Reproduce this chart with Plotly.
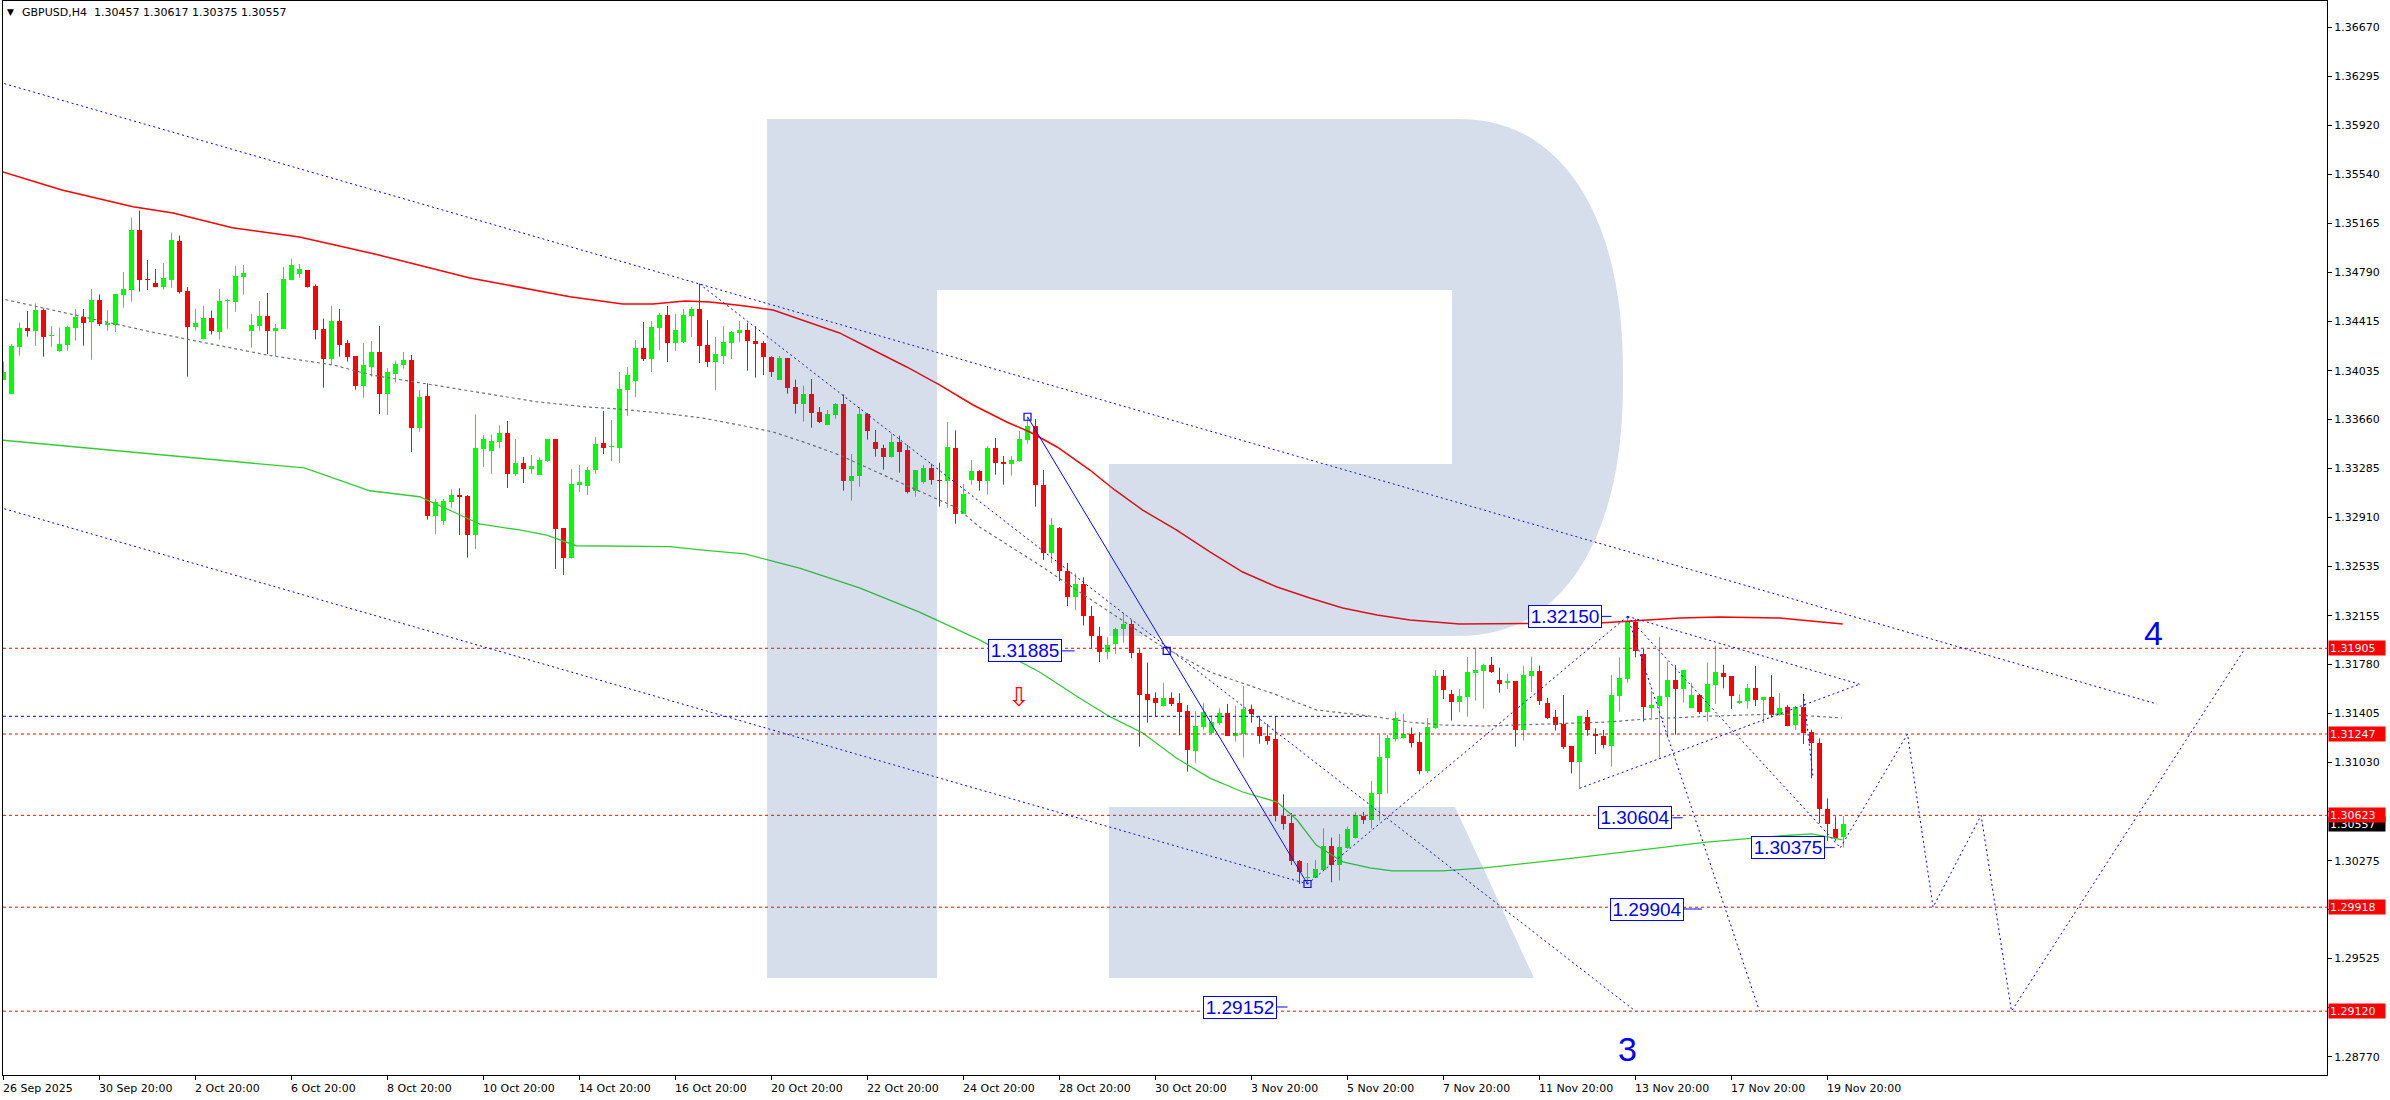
import math
import plotly.graph_objects as go

# ---------------- data ----------------
bar_open = [1.33964,1.33859,1.34217,1.34366,1.34340,1.34504,1.34299,1.34187,1.34235,1.34366,
1.34447,1.34412,1.34578,1.34389,1.34386,1.34619,1.34657,1.35115,1.34734,1.34708,
1.34680,1.34734,1.35033,1.34647,1.34373,1.34281,1.34442,1.34335,1.34568,1.34565,
1.34757,1.34343,1.34381,1.34455,1.34343,1.34358,1.34734,1.34780,1.34808,1.34685,
1.34355,1.34128,1.34417,1.34248,1.34148,1.33921,1.34066,1.34179,1.33857,1.34010,
1.34079,1.34118,1.33598,1.33841,1.32920,1.32882,1.33028,1.33082,1.33074,1.32775,
1.33435,1.33419,1.33488,1.33555,1.33243,1.33325,1.33281,1.33235,1.33342,1.33511,
1.32828,1.32598,1.33161,1.33151,1.33274,1.33481,1.33447,1.33442,1.33887,1.33956,
1.34210,1.34125,1.34363,1.34463,1.34248,1.34256,1.34455,1.34509,1.34233,1.34102,
1.34148,1.34248,1.34325,1.34348,1.34263,1.34248,1.34141,1.33967,1.34133,1.33910,
1.33782,1.33857,1.33718,1.33621,1.33698,1.33780,1.33191,1.33230,1.33703,1.33488,
1.33442,1.33373,1.33488,1.33427,1.33115,1.33184,1.33289,1.33194,1.33191,1.33442,
1.32938,1.33199,1.33266,1.33191,1.33442,1.33335,1.33322,1.33342,1.33506,1.33611,
1.33161,1.32636,1.32830,1.32500,1.32300,1.32400,1.32150,1.32000,1.31880,1.31938,
1.32050,1.32092,1.31866,1.31552,1.31521,1.31462,1.31521,1.31483,1.31424,1.31119,
1.31301,1.31255,1.31332,1.31409,1.31235,1.31250,1.31439,1.31301,1.31235,1.31206,
1.30616,1.30564,1.30273,1.30142,1.30145,1.30206,1.30388,1.30245,1.30370,1.30449,
1.30616,1.30588,1.30790,1.31066,1.31212,1.31217,1.31245,1.31186,1.30966,1.31291,
1.31692,1.31554,1.31493,1.31531,1.31718,1.31733,1.31777,1.31662,1.31636,1.31654,
1.31278,1.31695,1.31731,1.31488,1.31378,1.31324,1.31155,1.31035,1.31378,1.31247,
1.31234,1.31158,1.31541,1.31672,1.32107,1.31864,1.31449,1.31465,1.31534,1.31662,
1.31595,1.31449,1.31549,1.31416,1.31626,1.31715,1.31692,1.31488,1.31498,1.31600,
1.31508,1.31531,1.31396,1.31454,1.31316,1.31454,1.31265,1.31176,1.30669,1.30518,
1.30457]
bar_high = [1.34105,1.34240,1.34404,1.34493,1.34552,1.34514,1.34378,1.34366,1.34381,1.34509,
1.34509,1.34662,1.34621,1.34501,1.34624,1.34793,1.35210,1.35263,1.34885,1.34816,
1.34862,1.35095,1.35072,1.34678,1.34511,1.34532,1.34496,1.34662,1.34588,1.34839,
1.34847,1.34470,1.34570,1.34632,1.34394,1.34831,1.34893,1.34854,1.34808,1.34698,
1.34435,1.34532,1.34509,1.34271,1.34148,1.34248,1.34263,1.34378,1.34054,1.34112,
1.34179,1.34156,1.33887,1.33938,1.33051,1.33051,1.33125,1.33133,1.33082,1.33701,
1.33542,1.33544,1.33616,1.33649,1.33511,1.33373,1.33388,1.33371,1.33511,1.33511,
1.32828,1.33281,1.33312,1.33296,1.33527,1.33726,1.33657,1.34025,1.34064,1.34271,
1.34409,1.34417,1.34478,1.34532,1.34470,1.34509,1.34524,1.34701,1.34424,1.34294,
1.34378,1.34340,1.34417,1.34404,1.34378,1.34263,1.34146,1.34148,1.34133,1.33967,
1.33920,1.33972,1.33757,1.33734,1.33787,1.33854,1.33396,1.33757,1.33711,1.33580,
1.33468,1.33552,1.33537,1.33465,1.33273,1.33312,1.33322,1.33330,1.33642,1.33578,
1.33166,1.33350,1.33273,1.33457,1.33519,1.33381,1.33381,1.33573,1.33682,1.33665,
1.33273,1.32905,1.32836,1.32560,1.32480,1.32450,1.32230,1.32070,1.31990,1.32063,
1.32176,1.32122,1.31897,1.31795,1.31567,1.31639,1.31567,1.31560,1.31470,1.31424,
1.31483,1.31393,1.31444,1.31478,1.31462,1.31616,1.31473,1.31383,1.31324,1.31383,
1.30784,1.30641,1.30280,1.30257,1.30280,1.30524,1.30452,1.30480,1.30537,1.30646,
1.30649,1.30887,1.31240,1.31240,1.31419,1.31401,1.31296,1.31260,1.31370,1.31738,
1.31738,1.31585,1.31593,1.31838,1.31900,1.31787,1.31838,1.31756,1.31708,1.31654,
1.31772,1.31841,1.31772,1.31523,1.31431,1.31547,1.31155,1.31385,1.31431,1.31291,
1.31278,1.31700,1.31836,1.32150,1.32130,1.31900,1.31577,1.31992,1.31802,1.31777,
1.31738,1.31641,1.31549,1.31797,1.31925,1.31779,1.31692,1.31552,1.31631,1.31769,
1.31531,1.31700,1.31562,1.31470,1.31462,1.31546,1.31281,1.31214,1.30754,1.30615,
1.30617]
bar_low = [1.33964,1.33859,1.34151,1.34297,1.34225,1.34143,1.34220,1.34181,1.34187,1.34266,
1.34227,1.34120,1.34378,1.34343,1.34332,1.34519,1.34565,1.34642,1.34655,1.34675,
1.34657,1.34673,1.34627,1.33990,1.34345,1.34276,1.34314,1.34273,1.34358,1.34488,
1.34619,1.34212,1.34343,1.34164,1.34148,1.34358,1.34731,1.34749,1.34673,1.34276,
1.33905,1.34084,1.34143,1.34105,1.33890,1.33828,1.33990,1.33703,1.33696,1.33944,
1.34051,1.33412,1.33568,1.32892,1.32782,1.32851,1.32984,1.32775,1.32601,1.32667,
1.33296,1.33243,1.33440,1.33135,1.33227,1.33174,1.33243,1.33235,1.33335,1.32514,
1.32468,1.32593,1.33105,1.33082,1.33243,1.33396,1.33342,1.33327,1.33688,1.33834,
1.34110,1.34025,1.34194,1.34102,1.34187,1.34248,1.34294,1.34094,1.34064,1.33887,
1.34087,1.34125,1.34256,1.34036,1.33982,1.34002,1.33987,1.33967,1.33859,1.33706,
1.33644,1.33598,1.33634,1.33621,1.33667,1.33115,1.33038,1.33145,1.33506,1.33376,
1.33276,1.33368,1.33253,1.33092,1.33069,1.33168,1.33161,1.32992,1.32982,1.32861,
1.32938,1.33161,1.33115,1.33084,1.33237,1.33161,1.33230,1.33337,1.33475,1.32992,
1.32583,1.32560,1.32420,1.32230,1.32200,1.32080,1.31900,1.31800,1.31820,1.31859,
1.31948,1.31828,1.31150,1.31334,1.31380,1.31457,1.31462,1.31237,1.30958,1.31027,
1.31281,1.31250,1.31316,1.31235,1.31189,1.31066,1.31334,1.31173,1.31166,1.30577,
1.30513,1.30242,1.30096,1.30096,1.30140,1.30196,1.30109,1.30124,1.30365,1.30444,
1.30557,1.30521,1.30582,1.30790,1.31189,1.31212,1.31143,1.30938,1.30948,1.31286,
1.31516,1.31350,1.31414,1.31380,1.31503,1.31442,1.31715,1.31564,1.31593,1.31150,
1.31196,1.31570,1.31470,1.31362,1.31273,1.31132,1.30945,1.30830,1.31234,1.31094,
1.31137,1.30997,1.31419,1.31641,1.31836,1.31342,1.31372,1.31066,1.31219,1.31242,
1.31488,1.31449,1.31401,1.31342,1.31477,1.31598,1.31439,1.31477,1.31442,1.31462,
1.31332,1.31373,1.31388,1.31306,1.31278,1.31170,1.30907,1.30562,1.30426,1.30426,
1.30375]
bar_close = [1.34028,1.34227,1.34366,1.34343,1.34504,1.34297,1.34304,1.34240,1.34373,1.34450,
1.34404,1.34578,1.34394,1.34401,1.34624,1.34662,1.35115,1.34729,1.34729,1.34680,
1.34747,1.35038,1.34642,1.34373,1.34401,1.34442,1.34343,1.34570,1.34573,1.34762,
1.34785,1.34386,1.34455,1.34343,1.34363,1.34739,1.34847,1.34816,1.34680,1.34350,
1.34128,1.34417,1.34235,1.34138,1.33921,1.34079,1.34179,1.33857,1.34025,1.34084,
1.34118,1.33598,1.33834,1.32920,1.33028,1.33036,1.33082,1.33066,1.32775,1.33442,
1.33511,1.33496,1.33555,1.33243,1.33325,1.33281,1.33304,1.33348,1.33511,1.32821,
1.32601,1.33166,1.33181,1.33274,1.33473,1.33442,1.33452,1.33895,1.34002,1.34210,
1.34125,1.34371,1.34463,1.34248,1.34348,1.34463,1.34509,1.34225,1.34102,1.34164,
1.34256,1.34332,1.34348,1.34266,1.34243,1.34141,1.34028,1.34133,1.33905,1.33782,
1.33857,1.33711,1.33641,1.33703,1.33780,1.33191,1.33227,1.33703,1.33575,1.33437,
1.33376,1.33488,1.33414,1.33107,1.33273,1.33289,1.33199,1.33189,1.33450,1.32938,
1.33089,1.33266,1.33191,1.33442,1.33330,1.33322,1.33350,1.33511,1.33611,1.33161,
1.32636,1.32850,1.32500,1.32300,1.32400,1.32150,1.32000,1.31880,1.31930,1.32053,
1.32092,1.31872,1.31547,1.31511,1.31488,1.31521,1.31480,1.31419,1.31127,1.31306,
1.31414,1.31337,1.31409,1.31235,1.31255,1.31439,1.31398,1.31235,1.31196,1.30616,
1.30559,1.30275,1.30186,1.30150,1.30211,1.30388,1.30245,1.30380,1.30519,1.30628,
1.30588,1.30795,1.31071,1.31217,1.31368,1.31245,1.31181,1.30966,1.31301,1.31692,
1.31585,1.31495,1.31539,1.31723,1.31738,1.31777,1.31720,1.31631,1.31654,1.31278,
1.31700,1.31731,1.31500,1.31370,1.31319,1.31150,1.31035,1.31385,1.31281,1.31229,
1.31160,1.31546,1.31677,1.32107,1.31887,1.31457,1.31470,1.31539,1.31662,1.31595,
1.31738,1.31549,1.31416,1.31631,1.31720,1.31687,1.31541,1.31503,1.31600,1.31511,
1.31531,1.31396,1.31444,1.31311,1.31454,1.31257,1.31176,1.30669,1.30559,1.30452,
1.30557]

time_tick_bars = [0, 12, 24, 36, 48, 60, 72, 84, 96, 108, 120, 132, 144, 156, 168, 180, 192, 204, 216, 228]
time_tick_labels = ["26 Sep 2025", "30 Sep 20:00", "2 Oct 20:00", "6 Oct 20:00", "8 Oct 20:00",
                    "10 Oct 20:00", "14 Oct 20:00", "16 Oct 20:00", "20 Oct 20:00", "22 Oct 20:00",
                    "24 Oct 20:00", "28 Oct 20:00", "30 Oct 20:00", "3 Nov 20:00", "5 Nov 20:00",
                    "7 Nov 20:00", "11 Nov 20:00", "13 Nov 20:00", "17 Nov 20:00", "19 Nov 20:00"]

price_ticks = [1.36670, 1.36295, 1.35920, 1.35540, 1.35165, 1.34790, 1.34415, 1.34035, 1.33660,
               1.33285, 1.32910, 1.32535, 1.32155, 1.31780, 1.31405, 1.31030, 1.30650, 1.30275,
               1.29900, 1.29525, 1.29145, 1.28770]

red_ma_bars = [-0.5, 7.3, 16.2, 21.2, 28.6, 37, 46.4, 58.3, 70.8, 77.4, 81.2, 85.2, 88.3, 92.7, 96.2,
               100.4, 104.5, 108.7, 112.9, 117, 121.2, 125.4, 128.3, 131.7, 135.8, 138.9, 142.4, 146.6,
               150.8, 154.9, 159.2, 163.3, 167.4, 171.7, 175.8, 182, 199.5, 209.5, 214.5, 222, 226.1, 229.9]
red_ma_vals = [1.35568, 1.35422, 1.35294, 1.35246, 1.35133, 1.35061, 1.34931, 1.34747, 1.34603, 1.34547,
               1.34547, 1.34570, 1.34563, 1.34532, 1.34501, 1.34409, 1.34325, 1.34194, 1.34064, 1.33926,
               1.33772, 1.33642, 1.33565, 1.33450, 1.33273, 1.33120, 1.32966, 1.32813, 1.32644, 1.32490,
               1.32375, 1.32291, 1.32214, 1.32160, 1.32122, 1.32091, 1.32099, 1.32137, 1.32145, 1.32137,
               1.32114, 1.32091]
green_ma_bars = [-0.5, 18.5, 37.6, 45.8, 52, 56.2, 59.5, 64.5, 67.9, 71.6, 83.3, 87.4, 92.7, 99.5, 107,
                 114.5, 122, 129.5, 134.5, 138.3, 142.4, 146.6, 150.8, 154.9, 159.2, 161.7, 164.1, 167.4,
                 170.8, 173.6, 179.9, 185.1, 195.4, 212.9, 221.7, 226.1, 227.9, 229.9]
green_ma_vals = [1.33504, 1.33396, 1.33289, 1.33114, 1.33068, 1.32953, 1.32859, 1.32813, 1.32774, 1.32692,
                 1.32685, 1.32659, 1.32629, 1.32521, 1.32368, 1.32183, 1.31969, 1.31723, 1.31523, 1.31380,
                 1.31255, 1.31063, 1.30909, 1.30802, 1.30725, 1.30587, 1.30395, 1.30265, 1.30219, 1.30196,
                 1.30196, 1.30219, 1.30288, 1.30418, 1.30464, 1.30480, 1.30457, 1.30434]
gray_ma_bars = [-0.5, 4.9, 10.8, 18.3, 24.5, 32.9, 41.2, 46, 52, 58.3, 66.6, 72.9, 77, 83.3, 87.4, 92.6,
                96.2, 100.4, 104.5, 110.8, 114.9, 119.2, 122, 129.5, 134.5, 138.3, 140.8, 144.5, 150.8,
                154.9, 159.2, 164.2, 171.7, 175.8, 179.9, 185.1, 200.4, 205.4, 213.6, 222, 229.8]
gray_ma_vals = [1.34591, 1.34517, 1.34432, 1.34335, 1.34258, 1.34156, 1.34079, 1.34002, 1.33943, 1.33882,
                1.33797, 1.33757, 1.33741, 1.33703, 1.33672, 1.33611, 1.33565, 1.33480, 1.33388, 1.33212,
                1.33097, 1.32982, 1.32836, 1.32544, 1.32337, 1.32183, 1.32084, 1.31930, 1.31723, 1.31639,
                1.31546, 1.31431, 1.31378, 1.31339, 1.31316, 1.31308, 1.31339, 1.31362, 1.31385, 1.31401,
                1.31370]

# horizontal levels
level_prices = [1.31905, 1.31247, 1.30623, 1.29918, 1.29120]
support_price = 1.31383
support_end_bar = 170.5
current_price = 1.30557

# analysis lines: (bars, prices)
upper_trend = ([-0.5, 269.2], [1.36249, 1.31477])
lower_trend = ([-0.5, 163], [1.32986, 1.30096])
fan_line = ([87, 204], [1.34701, 1.29120])
wave_up = ([163, 203], [1.30096, 1.32150])
tri_top = ([203, 232], [1.32150, 1.31629])
tri_bottom = ([197, 232], [1.30830, 1.31629])
drop_a = ([203, 219.5], [1.32150, 1.29120])
drop_b = ([203, 229.6], [1.32150, 1.30375])
inner_drop = ([225, 226.2], [1.31554, 1.30909])
forecast = ([229.6, 238, 241.2, 247.2, 251, 280.2], [1.30375, 1.31247, 1.29918, 1.30623, 1.29120, 1.31905])
zigzag = ([128, 163], [1.33682, 1.30096])
anchor_marks = ([128, 145.4, 163], [1.33682, 1.31885, 1.30096])

# price labels: (text, price, box right bar, connector end bar)
price_boxes = [("1.31885", 1.31885, 132.3, 133.9),
               ("1.32150", 1.32150, 199.8, 201.0),
               ("1.30604", 1.30604, 208.6, 209.9),
               ("1.30375", 1.30375, 227.7, 228.9),
               ("1.29904", 1.29904, 210.0, 212.3),
               ("1.29152", 1.29152, 159.2, 160.5)]
wave_labels = [("3", 203.0, 1.28830), ("4", 268.8, 1.32022)]
arrow_mark = (126.9, 1.31531)

# ---------------- geometry ----------------
W, H = 2390, 1100
ML, MR, MT, MB = 3, 63, 1, 25
PW, PH = W - ML - MR, H - MT - MB
X_RANGE = [-0.0625, -0.0625 + PW / 8.0]
PX_PER_UNIT = 13030.0
Y_TOP = 1.36670 + (27.4 - MT) / PX_PER_UNIT
Y_RANGE = [Y_TOP - PH / PX_PER_UNIT, Y_TOP]


def pxx(x):
    return (x - ML) / PW


def pxy(y):
    return (H - MB - y) / PH


fig = go.Figure()

# candle wicks
n = len(bar_open)
up = [bar_close[i] >= bar_open[i] for i in range(n)]
for is_up, col in ((True, "#00ff00"), (False, "#ff0000")):
    xs, ys = [], []
    for i in range(n):
        if up[i] == is_up:
            xs += [i, i, None]
            ys += [bar_low[i], bar_high[i], None]
    fig.add_trace(go.Scatter(x=xs, y=ys, mode="lines", line=dict(color=col, width=1),
                             hoverinfo="skip", showlegend=False))

# candle bodies
bases = [min(bar_open[i], bar_close[i]) for i in range(n)]
heights = [max(abs(bar_close[i] - bar_open[i]), 0.00008) for i in range(n)]
fig.add_trace(go.Bar(x=list(range(n)), y=heights, base=bases, width=0.625,
                     marker=dict(color=["#00ff00" if u else "#ff0000" for u in up], line=dict(width=0)),
                     hoverinfo="skip", showlegend=False))

# moving averages
fig.add_trace(go.Scatter(x=gray_ma_bars, y=gray_ma_vals, mode="lines",
                         line=dict(color="#707070", width=1.2, dash="3px,3px"), hoverinfo="skip"))
fig.add_trace(go.Scatter(x=green_ma_bars, y=green_ma_vals, mode="lines",
                         line=dict(color="#32cd32", width=1.3), hoverinfo="skip"))
fig.add_trace(go.Scatter(x=red_ma_bars, y=red_ma_vals, mode="lines",
                         line=dict(color="#ff0000", width=1.5), hoverinfo="skip"))

# red dotted levels
for lv in level_prices:
    fig.add_trace(go.Scatter(x=X_RANGE, y=[lv, lv], mode="lines",
                             line=dict(color="#ff0000", width=1, dash="3px,3px"), hoverinfo="skip"))
# blue support line
fig.add_trace(go.Scatter(x=[X_RANGE[0], support_end_bar], y=[support_price, support_price], mode="lines",
                         line=dict(color="#0000ff", width=1, dash="3px,3px"), hoverinfo="skip"))

# blue dotted analysis lines
for seg in (upper_trend, lower_trend, fan_line, wave_up, tri_top, tri_bottom, drop_a, drop_b,
            inner_drop, forecast):
    fig.add_trace(go.Scatter(x=seg[0], y=seg[1], mode="lines",
                             line=dict(color="#0000ff", width=1, dash="2px,3px"), hoverinfo="skip"))
# solid zigzag
fig.add_trace(go.Scatter(x=zigzag[0], y=zigzag[1], mode="lines",
                         line=dict(color="#0000ff", width=1), hoverinfo="skip"))
fig.add_trace(go.Scatter(x=anchor_marks[0], y=anchor_marks[1], mode="markers",
                         marker=dict(symbol="square-open", size=7, color="#0000ff", line=dict(width=1.2)),
                         hoverinfo="skip"))

# connectors of price labels
for txt, pr, bx, cx in price_boxes:
    fig.add_trace(go.Scatter(x=[bx, cx], y=[pr, pr], mode="lines",
                             line=dict(color="#0000ff", width=1), hoverinfo="skip"))

# ---------------- watermark "R" ----------------
def path_from(points):
    s = "M " + " L ".join(f"{pxx(x):.5f},{pxy(y):.5f}" for x, y in points) + " Z"
    return s

cx, cy, rx, ry, ne = 1455.0, 377.5, 168.0, 258.5, 2.3
curve = []
for k in range(0, 61):
    t = -math.pi / 2 + math.pi * k / 60
    c, s = math.cos(t), math.sin(t)
    x = cx + rx * (abs(c) ** (2 / ne))
    y = cy + ry * math.copysign(abs(s) ** (2 / ne), s)
    curve.append((x, y))
main_pts = [(767, 119)] + curve + [(1109, 636), (1109, 464), (1452, 464), (1452, 290),
                                    (937, 290), (937, 978), (767, 978)]
leg_pts = [(1109, 807), (1455, 807), (1534, 978), (1109, 978)]
shapes = []
for pts in (main_pts, leg_pts):
    shapes.append(dict(type="path", xref="paper", yref="paper", path=path_from(pts),
                       fillcolor="rgba(45,90,150,0.2)", line=dict(width=0), layer="above"))

# ---------------- annotations ----------------
ann = []
for b, t in zip(time_tick_bars, time_tick_labels):
    ann.append(dict(x=b, y=0, xref="x", yref="paper", text=t, showarrow=False, xanchor="left",
                    yanchor="middle", xshift=-3, yshift=-13,
                    font=dict(family="DejaVu Sans", size=11, color="#000000")))

ann.append(dict(x=pxx(10.5), y=pxy(12.5), xref="paper", yref="paper", text="▼", showarrow=False,
                xanchor="center", yanchor="middle", font=dict(family="DejaVu Sans", size=9, color="#000000")))
ann.append(dict(x=pxx(20), y=pxy(13), xref="paper", yref="paper",
                text="GBPUSD,H4  1.30457 1.30617 1.30375 1.30557", showarrow=False,
                xanchor="left", yanchor="middle", font=dict(family="DejaVu Sans", size=11, color="#000000")))

for txt, pr, bx, cxb in price_boxes:
    ann.append(dict(x=bx, y=pr, xref="x", yref="y", text=txt, showarrow=False, xanchor="right",
                    yanchor="middle", bgcolor="#ffffff", bordercolor="#0000ff", borderwidth=1, borderpad=1,
                    width=70, height=19, font=dict(family="Liberation Sans", size=19, color="#0000ff")))

for txt, bx, pr in wave_labels:
    ann.append(dict(x=bx, y=pr, xref="x", yref="y", text=txt, showarrow=False, xanchor="center",
                    yanchor="middle", font=dict(family="Liberation Sans", size=34, color="#0000ff")))

ann.append(dict(x=arrow_mark[0], y=arrow_mark[1], xref="x", yref="y", text="⇩", showarrow=False,
                xanchor="center", yanchor="middle", font=dict(family="DejaVu Sans", size=26, color="#ff0000")))

# right axis boxes
ann.append(dict(x=1, y=current_price, xref="paper", yref="y", text="1.30557", showarrow=False,
                xanchor="left", yanchor="middle", xshift=1, bgcolor="#000000", borderpad=1, width=54, height=12,
                align="left", font=dict(family="DejaVu Sans", size=11, color="#ffffff")))
for lv in level_prices:
    ann.append(dict(x=1, y=lv, xref="paper", yref="y", text=f"{lv:.5f}", showarrow=False,
                    xanchor="left", yanchor="middle", xshift=1, bgcolor="#ff0000", borderpad=1, width=54,
                    height=12, align="left", font=dict(family="DejaVu Sans", size=11, color="#ffffff")))

fig.update_layout(
    width=W, height=H, margin=dict(l=ML, r=MR, t=MT, b=MB, pad=0),
    paper_bgcolor="#ffffff", plot_bgcolor="#ffffff", showlegend=False, bargap=0,
    shapes=shapes, annotations=ann,
    xaxis=dict(range=X_RANGE, showgrid=False, zeroline=False, showline=True, mirror=True,
               linecolor="#000000", linewidth=1, ticks="outside", ticklen=4, tickcolor="#000000",
               tickvals=time_tick_bars, showticklabels=False, fixedrange=True, automargin=False),
    yaxis=dict(range=Y_RANGE, side="right", showgrid=False, zeroline=False, showline=True, mirror=True,
               linecolor="#000000", linewidth=1, ticks="outside", ticklen=4, tickcolor="#000000",
               tickvals=price_ticks, ticktext=[f"{p:.5f}" for p in price_ticks],
               tickfont=dict(family="DejaVu Sans", size=11, color="#000000"), fixedrange=True,
               automargin=False),
)

fig.write_html("out.html", config={"displayModeBar": False, "staticPlot": True},
               post_script="document.body.style.margin='0px';document.body.style.overflow='hidden';")
